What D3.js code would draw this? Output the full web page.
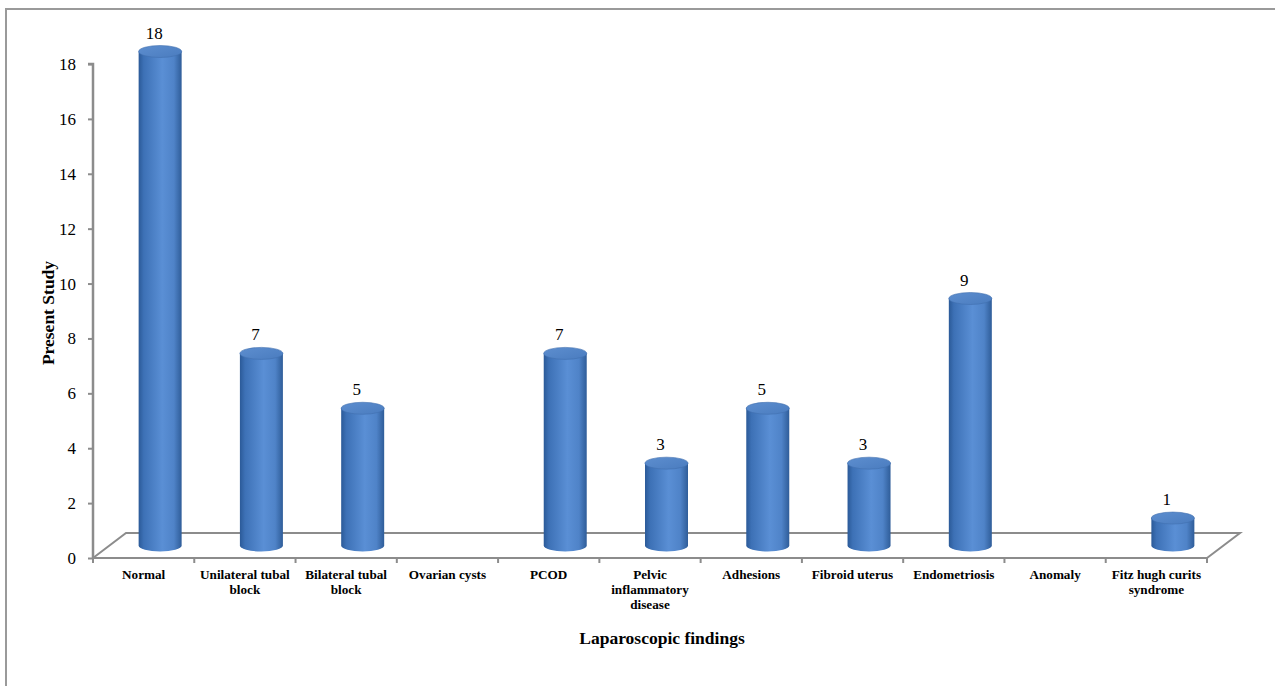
<!DOCTYPE html>
<html>
<head>
<meta charset="utf-8">
<script src="https://cdn.jsdelivr.net/npm/d3@7"></script>
<style>
  html, body { margin: 0; padding: 0; background: #fff; }
  svg { display: block; }
  text { font-family: "Liberation Serif", "Times New Roman", serif; fill: #000; }
</style>
</head>
<body>
<script>
// Laparoscopic findings — counts in the present study
const categories = [
  "Normal", "Unilateral tubal block", "Bilateral tubal block", "Ovarian cysts",
  "PCOD", "Pelvic inflammatory disease", "Adhesions", "Fibroid uterus",
  "Endometriosis", "Anomaly", "Fitz hugh curits syndrome"
];
const values = [18, 7, 5, 0, 7, 3, 5, 3, 9, 0, 1];
// wrapped category labels as drawn under the axis
const categoryLines = [
  ["Normal"], ["Unilateral tubal", "block"], ["Bilateral tubal", "block"], ["Ovarian cysts"],
  ["PCOD"], ["Pelvic", "inflammatory", "disease"], ["Adhesions"], ["Fibroid uterus"],
  ["Endometriosis"], ["Anomaly"], ["Fitz hugh curits", "syndrome"]
];
const yTicks = [0, 2, 4, 6, 8, 10, 12, 14, 16, 18];
const xTitle = "Laparoscopic findings";
const yTitle = "Present Study";

const W = 1275, H = 686;
const svg = d3.select("body").append("svg").attr("width", W).attr("height", H);

// gradients for the cylinders
const defs = svg.append("defs");
const gBody = defs.append("linearGradient").attr("id", "cylBody")
  .attr("x1", "0%").attr("x2", "100%").attr("y1", "0%").attr("y2", "0%");
[["0%", "#2b5a98"], ["12%", "#3d71b6"], ["55%", "#5a8fd5"], ["82%", "#4f83c8"], ["100%", "#2f5d99"]]
  .forEach(([o, c]) => gBody.append("stop").attr("offset", o).attr("stop-color", c));
const gTop = defs.append("linearGradient").attr("id", "cylTop")
  .attr("x1", "0%").attr("x2", "100%").attr("y1", "0%").attr("y2", "100%");
[["0%", "#5d8ecf"], ["100%", "#4a7cbf"]]
  .forEach(([o, c]) => gTop.append("stop").attr("offset", o).attr("stop-color", c));

// outer frame
svg.append("rect").attr("x", 6).attr("y", 9).attr("width", W + 20).attr("height", H + 20)
  .attr("fill", "none").attr("stroke", "#9a9a9a").attr("stroke-width", 2);

// scales
const x0 = 93, x1 = 1207, yBase = 558, yTop = 64;
const depthX = 33, depthY = -25;
const x = d3.scaleBand().domain(categories).range([x0, x1]).padding(0);
const y = d3.scaleLinear().domain([0, 18]).range([yBase, yTop]);

const axisColor = "#8c8c8c";

// floor
svg.append("path")
  .attr("d", `M${x0},${yBase} L${x0 + depthX},${yBase + depthY} L${x1 + depthX},${yBase + depthY} L${x1},${yBase}`)
  .attr("fill", "none").attr("stroke", axisColor).attr("stroke-width", 2);

// y axis
const yAxis = d3.axisLeft(y).tickValues(yTicks).tickSize(5).tickPadding(12).tickFormat(d3.format("d"));
const gy = svg.append("g").attr("transform", `translate(${x0},0)`).call(yAxis);
gy.attr("font-family", null);
gy.select(".domain").attr("stroke", axisColor).attr("stroke-width", 2.5).attr("d", `M-5,${yTop}H0V${yBase}`);
gy.selectAll(".tick line").attr("stroke", axisColor).attr("stroke-width", 2);
gy.selectAll(".tick text").attr("font-size", 17).attr("fill", "#000");

// x axis (front edge of floor)
const xAxis = d3.axisBottom(x).tickSize(0).tickFormat("");
const gx = svg.append("g").attr("transform", `translate(0,${yBase})`).call(xAxis);
gx.select(".domain").attr("stroke", axisColor).attr("stroke-width", 2).attr("d", `M${x0},0H${x1}`);
gx.selectAll(".tick").remove();
// boundary ticks
const bounds = categories.map(c => x(c)).concat([x1]);
svg.append("g").selectAll("line").data(bounds).join("line")
  .attr("x1", d => d).attr("x2", d => d).attr("y1", yBase).attr("y2", yBase + 5)
  .attr("stroke", axisColor).attr("stroke-width", 2);

// category labels
const catG = svg.append("g");
categories.forEach((c, i) => {
  const t = catG.append("text")
    .attr("x", x(c) + x.bandwidth() / 2)
    .attr("y", 579)
    .attr("text-anchor", "middle")
    .attr("font-size", 13.2).attr("font-weight", "bold");
  categoryLines[i].forEach((ln, j) => {
    t.append("tspan").attr("x", x(c) + x.bandwidth() / 2).attr("dy", j === 0 ? 0 : 15).text(ln);
  });
});

// cylinders
const rx = 21.5, ry = 6;
const bars = svg.append("g");
categories.forEach((c, i) => {
  const v = values[i];
  if (v <= 0) return;
  const cx = x(c) + x.bandwidth() / 2 + depthX / 2;
  const topY = y(v) + depthY / 2;
  const botY = y(0) + depthY / 2;
  bars.append("path")
    .attr("d", `M${cx - rx},${topY} L${cx - rx},${botY} A${rx},${ry} 0 0 0 ${cx + rx},${botY} L${cx + rx},${topY} Z`)
    .attr("fill", "url(#cylBody)");
  bars.append("ellipse")
    .attr("cx", cx).attr("cy", topY).attr("rx", rx).attr("ry", ry)
    .attr("fill", "url(#cylTop)").attr("stroke", "#3f6fae").attr("stroke-width", 0.6);
  bars.append("text")
    .attr("x", cx - 6).attr("y", topY - ry - 7)
    .attr("text-anchor", "middle").attr("font-size", 17)
    .text(v);
});

// axis titles
svg.append("text").attr("x", 662).attr("y", 644).attr("text-anchor", "middle")
  .attr("font-size", 17.5).attr("font-weight", "bold").text(xTitle);
svg.append("text").attr("transform", "translate(54,313) rotate(-90)").attr("text-anchor", "middle")
  .attr("font-size", 17.5).attr("font-weight", "bold").text(yTitle);
</script>
</body>
</html>
